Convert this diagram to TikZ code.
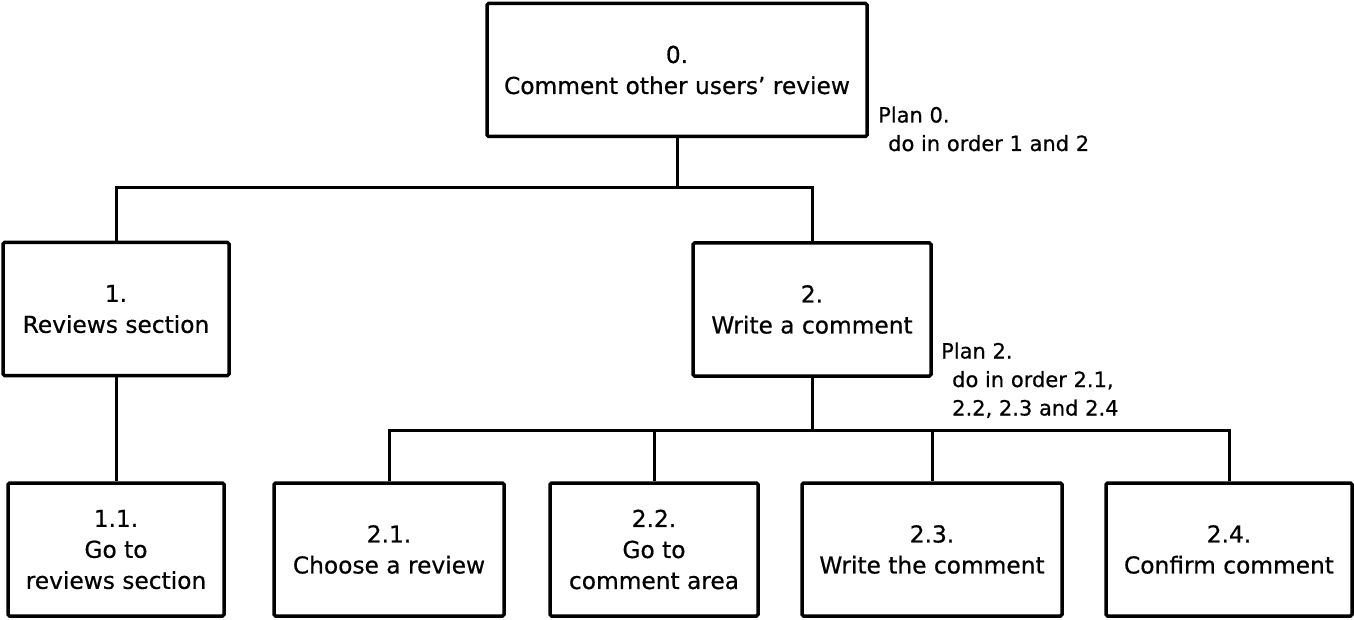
\documentclass[tikz,border=0pt]{standalone}
\usepackage{fontspec}
\setmainfont{DejaVu Sans}
\newfontfamily\hand[FakeBold=0.6]{DejaVu Sans}
\begin{document}
\begin{tikzpicture}[x=1pt,y=-1pt,
  task/.style={draw, line width=3.5pt, rectangle, rounded corners=1.5pt, inner sep=0pt,
    align=center, minimum height=133pt,
    font=\hand\fontsize{23.3}{31}\selectfont},
  conn/.style={line width=3pt},
  plantext/.style={anchor=base west, inner sep=0pt, align=left,
    font=\hand\fontsize{21}{28.5}\selectfont}]
\useasboundingbox (0,0) rectangle (1354,620);
% boxes
\node[task, minimum width=380pt] (b0) at (677,70) {0.\\Comment other users’ review};
\node[task, minimum width=226pt] (b1) at (116,309) {1.\\Reviews section};
\node[task, minimum width=238pt] (b2) at (812,309.5) {2.\\Write a comment};
\node[task, minimum width=216pt] (b11) at (116,549.5) {1.1.\\Go to\\reviews section};
\node[task, minimum width=230pt] (b21) at (389,549.5) {2.1.\\Choose a review};
\node[task, minimum width=208pt] (b22) at (654,549.5) {2.2.\\Go to\\comment area};
\node[task, minimum width=260pt] (b23) at (932,549.5) {2.3.\\Write the comment};
\node[task, minimum width=246pt] (b24) at (1229,549.5) {2.4.\\Confirm comment};
% plans
\node[plantext] (p0) at (878,151) {Plan 0.\\\hspace*{10pt}do in order 1 and 2};
\node[plantext] (p2) at (941,415.5) {Plan 2.\\\hspace*{11pt}do in order 2.1,\\\hspace*{11pt}2.2, 2.3 and 2.4};
% junctions
\coordinate (j0) at (677,188);
\coordinate (j2) at (812,430);
% connectors
\draw[conn] (b0.south) -- (j0);
\draw[conn] (j0) -| (b1.north);
\draw[conn] (j0) -| (b2.north);
\draw[conn] (b1.south) -- (b11.north);
\draw[conn] (b2.south) -- (j2);
\draw[conn] (j2) -| (b21.north);
\draw[conn] (j2) -| (b22.north);
\draw[conn] (j2) -| (b23.north);
\draw[conn] (j2) -| (b24.north);
\end{tikzpicture}
\end{document}
